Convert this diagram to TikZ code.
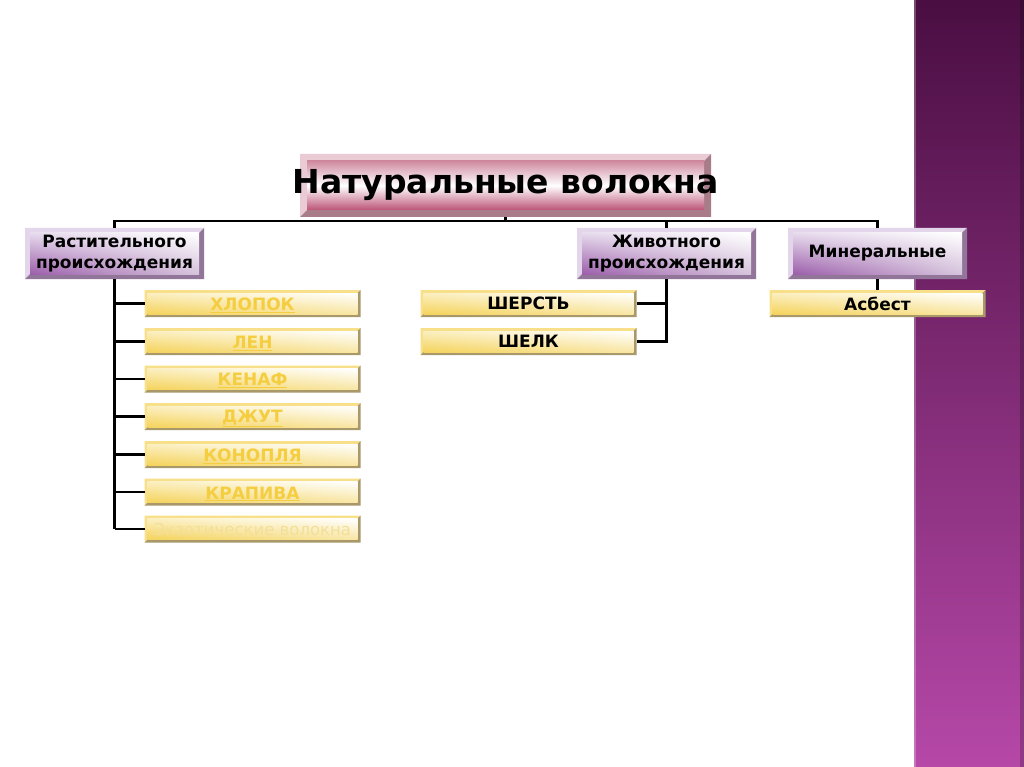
\documentclass[tikz,border=0pt]{standalone}
\usepackage{fontspec}
\setmainfont{DejaVu Sans}
\usetikzlibrary{shadings}
\begin{document}
\begin{tikzpicture}[x=1pt,y=-1pt]
\definecolor{bandtop}{HTML}{4A0E42}
\definecolor{bandbot}{HTML}{B648A8}
\definecolor{ytext}{HTML}{F4CE40}
\definecolor{ypale}{HTML}{F3DF98}
\definecolor{tLight}{HTML}{EACBD4}
\definecolor{tDark}{HTML}{A97C8A}
\definecolor{tTop}{HTML}{CF8AA0}
\definecolor{tBot}{HTML}{BC5477}
\definecolor{pLight}{HTML}{E4D6EA}
\definecolor{pDark}{HTML}{917699}
\definecolor{pLL}{HTML}{9C5EAB}
\definecolor{pUL}{HTML}{E6DAEC}
\definecolor{pLR}{HTML}{D6C4DC}
\definecolor{yLight}{HTML}{F8E08A}
\definecolor{yDark}{HTML}{A8986A}
\definecolor{yLL}{HTML}{F5D35C}
\definecolor{yUL}{HTML}{FBEFC0}
\definecolor{yLR}{HTML}{F8E6A4}
\tikzset{
  bevbox/.style n args={4}{inner sep=0pt, outer sep=0pt, draw=none, align=center,
    path picture={
      \coordinate (SW) at (path picture bounding box.south west);
      \coordinate (NE) at (path picture bounding box.north east);
      \coordinate (NW) at (path picture bounding box.north west);
      \coordinate (SE) at (path picture bounding box.south east);
      \fill[#2] (SW) -- (NW) -- (NE) -- ([shift={(-#1pt,-#1pt)}]NE) -- ([shift={(#1pt,-#1pt)}]NW) -- ([shift={(#1pt,#1pt)}]SW) -- cycle;
      \fill[#3] (SW) -- (SE) -- (NE) -- ([shift={(-#1pt,-#1pt)}]NE) -- ([shift={(-#1pt,#1pt)}]SE) -- ([shift={(#1pt,#1pt)}]SW) -- cycle;
      \shade[#4] ([shift={(#1pt,#1pt)}]SW) rectangle ([shift={(-#1pt,-#1pt)}]NE);
    }},
  titlebox/.style={bevbox={7}{fill=tLight}{fill=tDark}{top color=tTop, bottom color=tBot, middle color=white},
    minimum width=411, minimum height=63, font=\fontsize{33}{38}\selectfont\bfseries},
  purplebox/.style={bevbox={5}{fill=pLight}{fill=pDark}{upper left=pUL, upper right=white, lower right=pLR, lower left=pLL},
    minimum width=179, minimum height=51, font=\fontsize{17}{21}\selectfont\bfseries},
  yellowbox/.style={bevbox={3}{fill=yLight}{fill=yDark}{upper left=yUL, upper right=white, lower right=yLR, lower left=yLL},
    minimum width=216, minimum height=27, font=\fontsize{17}{19}\selectfont\bfseries},
  ylink/.style={text=ytext},
  conn/.style={draw=black, line width=2.2pt},
}
\newcommand{\ulk}[1]{\raisebox{-1.8pt}[\height][\depth]{\underline{#1}}}
\useasboundingbox (0,0) rectangle (1024,767);
\fill[white] (0,0) rectangle (1024,767);
% right band
\shade[top color=bandtop, bottom color=bandbot] (914,0) rectangle (1024,767);
\fill[white, opacity=0.25] (914,0) rectangle (916,767);
\fill[black, opacity=0.2] (1020,0) rectangle (1024,767);

% nodes
\node[titlebox] (title) at (505.5,185.5) {\makebox[0pt]{Натуральные волокна}};
\node[purplebox] (rast) at (114.5,253.5) {Растительного\\происхождения};
\node[purplebox] (zhiv) at (666.5,253.5) {Животного\\происхождения};
\node[purplebox] (minr) at (877.5,253.5) {Минеральные};

\node[yellowbox, ylink] (hlopok) at (252.5,303.5) {\ulk{ХЛОПОК}};
\node[yellowbox, ylink] (len) at (252.5,341.5) {\ulk{ЛЕН}};
\node[yellowbox, ylink] (kenaf) at (252.5,379) {\ulk{КЕНАФ}};
\node[yellowbox, ylink] (dzhut) at (252.5,416.5) {\ulk{ДЖУТ}};
\node[yellowbox, ylink] (konoplya) at (252.5,454.5) {\ulk{КОНОПЛЯ}};
\node[yellowbox, ylink] (krapiva) at (252.5,492) {\ulk{КРАПИВА}};
\node[yellowbox, text=ypale, font=\fontsize{16.5}{19}\selectfont] (ekzot) at (252.5,529) {\makebox[0pt]{Экзотические волокна}};

\node[yellowbox] (sherst) at (528.5,303.5) {ШЕРСТЬ};
\node[yellowbox] (shelk) at (528.5,341.5) {ШЕЛК};
\node[yellowbox] (asbest) at (877.5,303.5) {Асбест};

% connectors
\coordinate (bus) at (0,221);
\draw[conn] (rast.north) |- (bus -| minr.north) -- (minr.north);
\draw[conn] (title.south) -- (title.south |- bus);
\draw[conn] (zhiv.north) -- (zhiv.north |- bus);
\draw[conn] (rast.south) -- (rast.south |- ekzot.west);
\foreach \n in {hlopok,len,kenaf,dzhut,konoplya,krapiva,ekzot}
  \draw[conn] (rast.south |- \n.west) -- (\n.west);
\draw[conn] (zhiv.south) |- (shelk.east);
\draw[conn] (zhiv.south |- sherst.east) -- (sherst.east);
\draw[conn] (minr.south) -- (asbest.north);
\end{tikzpicture}
\end{document}
